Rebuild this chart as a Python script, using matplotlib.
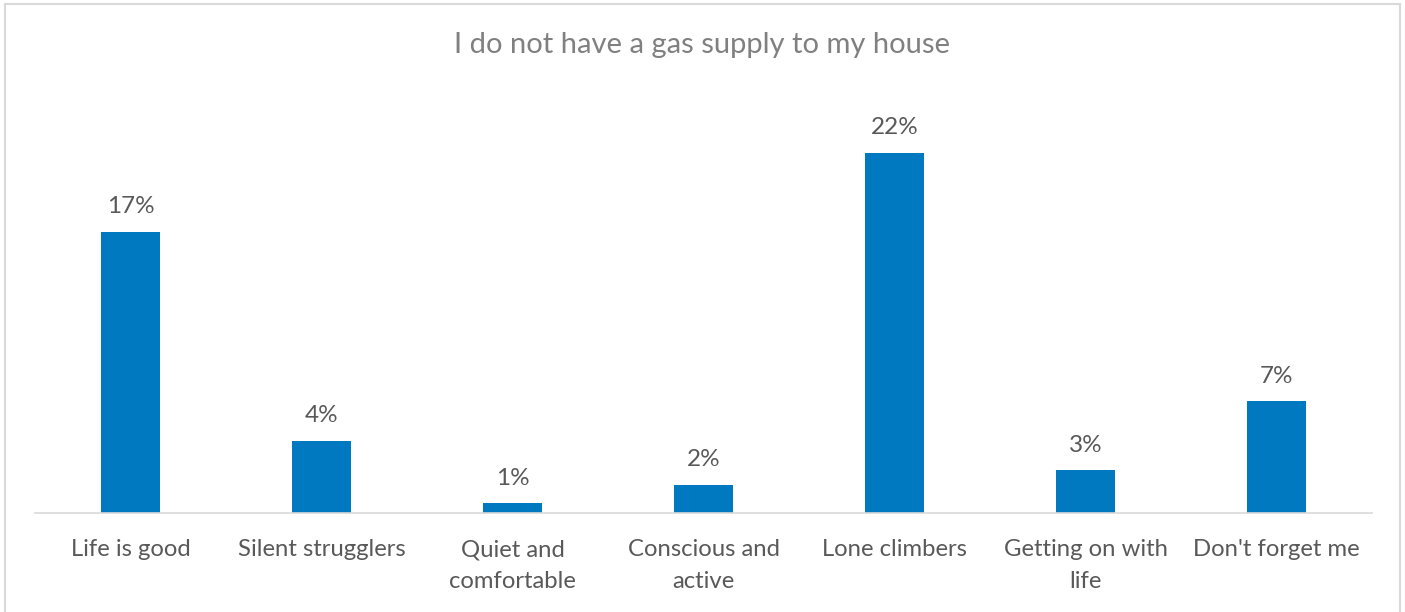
import numpy as np
import matplotlib
matplotlib.use("Agg")
import matplotlib.pyplot as plt
from matplotlib.patches import Rectangle

categories = ["Life is good", "Silent strugglers", "Quiet and\ncomfortable",
              "Conscious and\nactive", "Lone climbers", "Getting on with\nlife",
              "Don't forget me"]
values = [17.1, 4.4, 0.6, 1.7, 21.9, 2.6, 6.8]
title = "I do not have a gas supply to my house"

plt.rcParams['font.family'] = ['Lato', 'DejaVu Sans']

W, H = 1405, 612
fig = plt.figure(figsize=(W / 100, H / 100), dpi=100)

# plot area in pixels
left, right, bottom, top = 35, 1372, 513, 100
ax = fig.add_axes([left / W, 1 - bottom / H, (right - left) / W, (bottom - top) / H])

x = np.arange(len(categories))
ax.bar(x, values, width=0.314, color="#0079C1", zorder=2)
for xi, v in zip(x, values):
    ax.annotate(f"{v:.0f}%", (xi, v), xytext=(0, 10.5), textcoords="offset points",
                ha="center", va="bottom", fontsize=17.5, color="#595959")

ax.set_xlim(-0.5, len(categories) - 0.5)
ax.set_ylim(0, (bottom - top) / 16.45)
ax.set_xticks(x)
ax.set_xticklabels(categories, fontsize=17.2, color="#595959", linespacing=1.6)
ax.tick_params(axis="x", length=0, pad=19)
ax.set_yticks([])
for s in ["top", "left", "right"]:
    ax.spines[s].set_visible(False)
ax.spines["bottom"].set_color("#d9d9d9")
ax.spines["bottom"].set_linewidth(1.2)

fig.text(0.5, 1 - 45 / H, title, ha="center", va="center", fontsize=21, color="#808080")

# chart border
fig.patches.append(Rectangle((5 / W, -0.05), 1395 / W, 1.05 - 4 / H,
                             transform=fig.transFigure, fill=False,
                             edgecolor="#d9d9d9", linewidth=1.5))

fig.savefig("out.png", dpi=100)
